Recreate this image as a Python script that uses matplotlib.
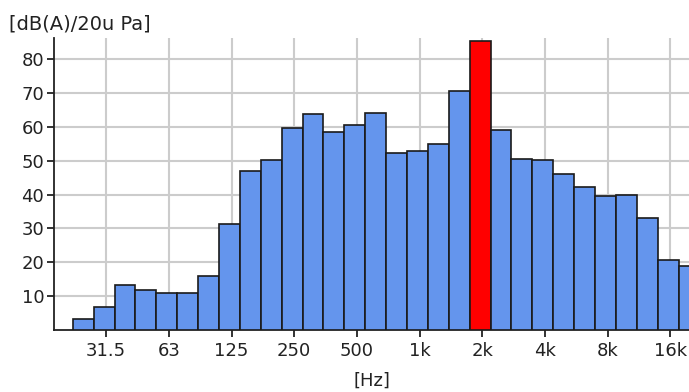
import matplotlib
matplotlib.use('Agg')
import matplotlib.pyplot as plt
import numpy as np

# third-octave bands, 25 Hz .. 20 kHz
bands = ['25', '31.5', '40', '50', '63', '80', '100', '125', '160', '200',
         '250', '315', '400', '500', '630', '800', '1k', '1.25k', '1.6k', '2k',
         '2.5k', '3.15k', '4k', '5k', '6.3k', '8k', '10k', '12.5k', '16k', '20k']
levels = [3.2, 6.9, 13.2, 11.7, 11.0, 11.0, 15.9, 31.2, 46.9, 50.1,
          59.6, 63.7, 58.5, 60.5, 64.2, 52.2, 52.8, 54.8, 70.7, 85.3,
          59.0, 50.6, 50.1, 46.0, 42.1, 39.7, 40.0, 33.2, 20.6, 19.0]
highlight = '2k'
tick_bands = ['31.5', '63', '125', '250', '500', '1k', '2k', '4k', '8k', '16k']
y_ticks = [10, 20, 30, 40, 50, 60, 70, 80]

fig = plt.figure(figsize=(6.89, 3.92), dpi=100)
ax = fig.add_axes([54/689, 62/392, 1 - 54/689, (330 - 38)/392])

x = np.arange(len(bands))
colors = ['#ff0000' if b == highlight else '#6495ed' for b in bands]
ax.bar(x - 0.1, levels, width=1.0, color=colors, edgecolor='#1a1a1a',
       linewidth=1.2, zorder=3)

ax.set_xlim(-1.5, 28.9)
ax.set_ylim(0, 86.2)
ax.set_xticks([bands.index(b) for b in tick_bands])
ax.set_xticklabels(tick_bands)
ax.set_yticks(y_ticks)

ax.grid(True, color='#cccccc', linewidth=1.5, zorder=0)
ax.set_axisbelow(True)
for s in ['top', 'right']:
    ax.spines[s].set_visible(False)
for s in ['left', 'bottom']:
    ax.spines[s].set_linewidth(1.3)
    ax.spines[s].set_color('#222222')
ax.tick_params(axis='both', length=5, width=1.3, color='#222222',
               labelsize=13, labelcolor='#222222')
ax.tick_params(axis='x', pad=4)
ax.tick_params(axis='y', pad=2)

fig.text(9/689, 1 - 24/392, '[dB(A)/20u Pa]', fontsize=14, color='#222222',
         va='center', ha='left')
ax.set_xlabel('[Hz]', fontsize=13, color='#222222', labelpad=8)

fig.savefig('out.png', dpi=100)
